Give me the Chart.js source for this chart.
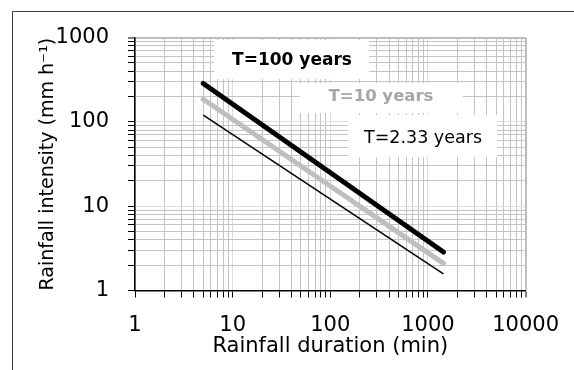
<!DOCTYPE html>
<html>
<head>
<meta charset="utf-8">
<script src="https://cdn.jsdelivr.net/npm/chart.js@4.4.0/dist/chart.umd.min.js"></script>
<style>
  html, body { margin: 0; padding: 0; background: #ffffff; }
  #wrap { position: relative; width: 574px; height: 370px; overflow: hidden; }
  #frame { position: absolute; left: 12px; top: 11px; right: -2px; bottom: -2px;
           border-left: 1px solid #404040; border-top: 1px solid #404040; }
  #chart { position: absolute; left: 0; top: 0; }
</style>
</head>
<body>
<div id="wrap">
  <div id="frame"></div>
  <canvas id="chart" width="574" height="370"></canvas>
</div>
<script>
// Datos (duración en min, intensidad en mm/h)
const durations = [5, 1440];
const t100 = [285, 2.86];
const t10 = [185, 2.1];
const t233 = [120, 1.57];

const seriesNames = ['T=100 years', 'T=10 years', 'T=2.33 years'];

// Etiquetas de los ejes
const xTickLabels = [1, 10, 100, 1000, 10000];
const yTickLabels = [1, 10, 100, 1000];

const FONT = "'DejaVu Sans', sans-serif";

function toPoints(ys) {
  return durations.map((d, i) => ({ x: d, y: ys[i] }));
}

// Líneas de rejilla: 1..9 en cada década
function gridValues(labels) {
  const vals = [];
  for (let i = 0; i < labels.length - 1; i++) {
    for (let k = 1; k < 10; k++) vals.push(labels[i] * k);
  }
  vals.push(labels[labels.length - 1]);
  return vals;
}

function gridColor(labels) {
  return (ctx) => {
    const v = ctx.tick && ctx.tick.value;
    const first = labels[0], last = labels[labels.length - 1];
    if (v === last) return '#bdbdbd';
    if (v !== first && labels.includes(v)) return '#dcdcdc';
    return '#c4c4c4';
  };
}

function gridWidth(labels) {
  return (ctx) => {
    const v = ctx.tick && ctx.tick.value;
    return v === labels[labels.length - 1] ? 2 : 1;
  };
}

// Cuadros de texto de cada curva
const labelBoxes = {
  id: 'labelBoxes',
  beforeDatasetsDraw(chart) {
    const ctx = chart.ctx;
    const boxes = [
      { text: seriesNames[0], box: [214, 40, 155, 39], cx: 292, cy: 61, font: 'bold 17px ' + FONT, color: '#000000' },
      { text: seriesNames[1], box: [300, 83, 163, 30], cx: 381, cy: 97, font: 'bold 16.5px ' + FONT, color: '#a6a6a6' },
      { text: seriesNames[2], box: [348, 115, 149, 42], cx: 423, cy: 138, font: '17.5px ' + FONT, color: '#000000' }
    ];
    ctx.save();
    boxes.forEach(b => {
      ctx.fillStyle = '#ffffff';
      ctx.fillRect(b.box[0], b.box[1], b.box[2], b.box[3]);
      ctx.fillStyle = b.color;
      ctx.font = b.font;
      ctx.textAlign = 'center';
      ctx.textBaseline = 'middle';
      ctx.fillText(b.text, b.cx, b.cy);
    });
    ctx.restore();
  }
};

new Chart(document.getElementById('chart'), {
  type: 'scatter',
  data: {
    datasets: [
      {
        label: seriesNames[0],
        data: toPoints(t100),
        showLine: true,
        borderColor: '#000000',
        borderWidth: 5,
        borderCapStyle: 'round',
        pointRadius: 0
      },
      {
        label: seriesNames[1],
        data: toPoints(t10),
        showLine: true,
        borderColor: '#bfbfbf',
        borderWidth: 5,
        borderCapStyle: 'round',
        pointRadius: 0
      },
      {
        label: seriesNames[2],
        data: toPoints(t233),
        showLine: true,
        borderColor: '#000000',
        borderWidth: 1.5,
        pointRadius: 0
      }
    ]
  },
  options: {
    responsive: false,
    animation: false,
    layout: { padding: { left: 33, top: 37.5, right: 44, bottom: 0 } },
    plugins: {
      legend: { display: false },
      tooltip: { enabled: false }
    },
    scales: {
      x: {
        type: 'logarithmic',
        min: xTickLabels[0],
        max: xTickLabels[xTickLabels.length - 1],
        afterFit: (scale) => { scale.height = 79.5; },
        afterBuildTicks: (scale) => {
          scale.ticks = gridValues(xTickLabels).map(v => ({ value: v }));
        },
        ticks: {
          autoSkip: false,
          maxRotation: 0,
          padding: 15,
          color: '#000000',
          font: { family: FONT, size: 21 },
          callback: (v) => xTickLabels.includes(v) ? String(v) : ''
        },
        grid: {
          color: gridColor(xTickLabels),
          lineWidth: gridWidth(xTickLabels),
          tickColor: '#000000',
          tickLength: 7,
          tickWidth: 1
        },
        border: { color: '#000000', width: 1.5 },
        title: {
          display: true,
          text: 'Rainfall duration (min)',
          color: '#000000',
          font: { family: FONT, size: 21 },
          padding: { top: 0, bottom: 11 }
        }
      },
      y: {
        type: 'logarithmic',
        min: yTickLabels[0],
        max: yTickLabels[yTickLabels.length - 1],
        afterFit: (scale) => { scale.width = 102; },
        afterBuildTicks: (scale) => {
          scale.ticks = gridValues(yTickLabels).map(v => ({ value: v }));
        },
        ticks: {
          autoSkip: false,
          padding: 19,
          color: '#000000',
          font: { family: FONT, size: 21 },
          callback: (v) => yTickLabels.includes(v) ? String(v) : ''
        },
        grid: {
          color: gridColor(yTickLabels),
          lineWidth: gridWidth(yTickLabels),
          tickColor: '#000000',
          tickLength: 7,
          tickWidth: 1
        },
        border: { color: '#000000', width: 1.5 },
        title: {
          display: true,
          text: 'Rainfall intensity (mm h⁻¹)',
          align: 'start',
          color: '#000000',
          font: { family: FONT, size: 19 },
          padding: { top: 4, bottom: 0 }
        }
      }
    }
  },
  plugins: [labelBoxes]
});
</script>
</body>
</html>
